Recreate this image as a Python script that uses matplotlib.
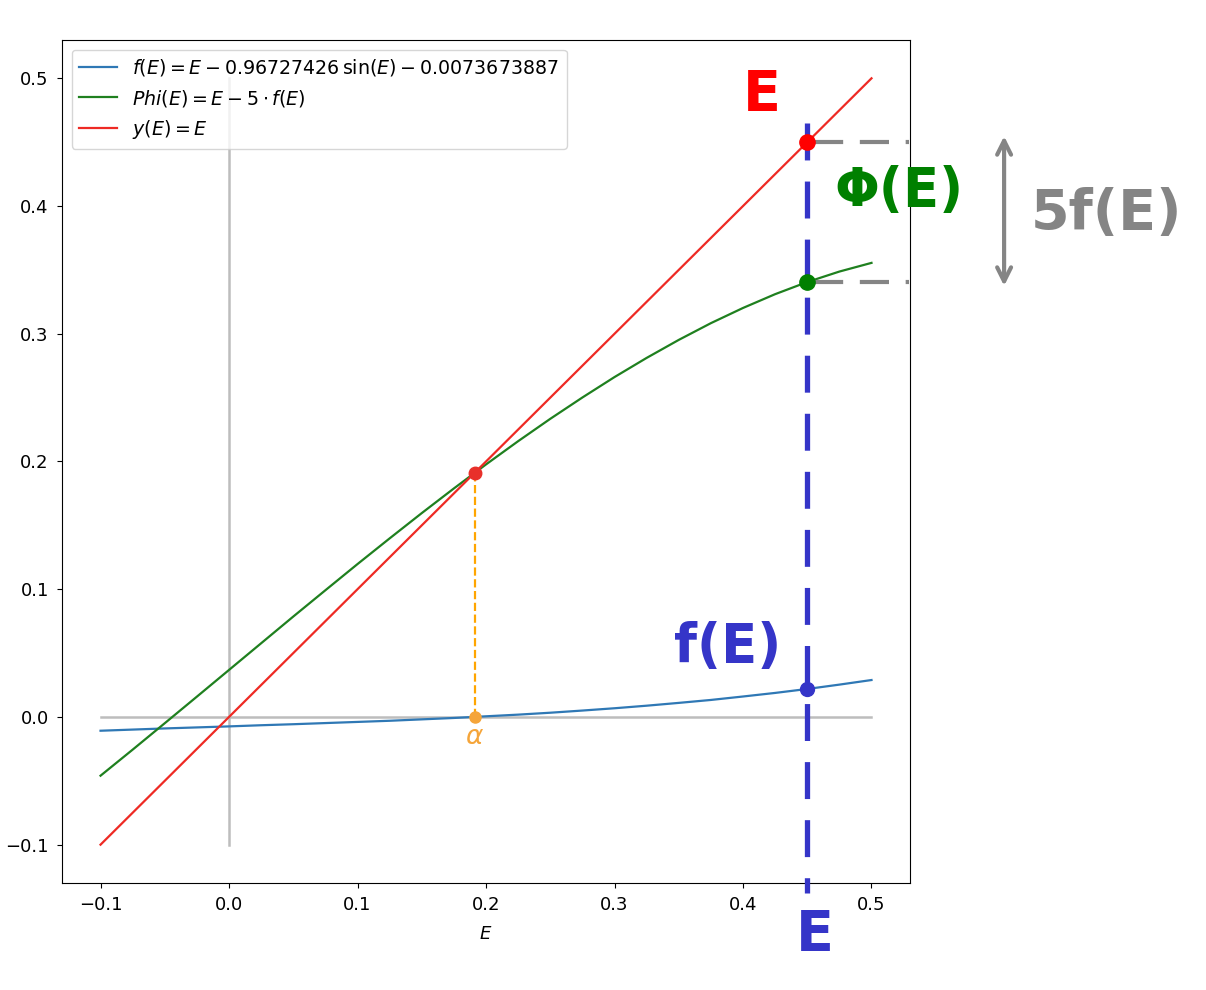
import numpy as np
import matplotlib.pyplot as plt

# values (step 0.025)
E_vals = [-0.1, -0.075, -0.05, -0.025, 0.0, 0.025, 0.05, 0.075, 0.1, 0.125,
          0.15, 0.175, 0.2, 0.225, 0.25, 0.275, 0.3, 0.325, 0.35, 0.375,
          0.4, 0.425, 0.45, 0.475, 0.5]
f_vals = [-0.0108, -0.0099, -0.0090, -0.0082, -0.0074, -0.0065, -0.0057,
          -0.0048, -0.0039, -0.0030, -0.0019, -0.0008, 0.0005, 0.0018,
          0.0033, 0.0050, 0.0068, 0.0088, 0.0110, 0.0133, 0.0160, 0.0188,
          0.0219, 0.0253, 0.0289]
phi_vals = [-0.0460, -0.0256, -0.0049, 0.0159, 0.0368, 0.0577, 0.0786,
            0.0992, 0.1197, 0.1398, 0.1596, 0.1789, 0.1977, 0.2159, 0.2334,
            0.2501, 0.2661, 0.2811, 0.2952, 0.3083, 0.3202, 0.3310, 0.3405,
            0.3487, 0.3555]
y_vals = E_vals

alpha = 0.1911      # fixed point / root
E0 = 0.45           # the hand-marked E
f_E0 = 0.0219
phi_E0 = 0.3405

fig = plt.figure(figsize=(12.06, 9.9), dpi=100)
ax = fig.add_axes([0.0514, 0.1081, 0.7032, 0.8515])

# grey axes lines
ax.plot([-0.1, 0.5], [0, 0], color='#bdbdbd', lw=1.8, zorder=1)
ax.plot([0, 0], [-0.1, 0.5], color='#bdbdbd', lw=1.8, zorder=1)

ax.plot(E_vals, f_vals, color='#2f78b5', lw=1.6,
        label=r'$f(E) = E - 0.96727426\,\sin(E) - 0.0073673887$')
ax.plot(E_vals, phi_vals, color='#1f801f', lw=1.6,
        label=r'$Phi(E) = E - 5 \cdot f(E)$')
ax.plot(E_vals, y_vals, color='#ee2a24', lw=1.6, label=r'$y(E) = E$')

# fixed point
ax.plot([alpha, alpha], [0, alpha], color='orange', ls='--', lw=1.6)
ax.plot(alpha, 0, 'o', color='#f5a53a', ms=8)
ax.plot(alpha, alpha, 'o', color='#e8302a', ms=9)
ax.text(alpha, -0.016, r'$\alpha$', color='#f5a53a', fontsize=19,
        ha='center', va='center')

ax.set_xlabel(r'$E$', fontsize=13, labelpad=8)
ax.tick_params(labelsize=13, pad=6)
ax.legend(loc='upper left', fontsize=13.7)

# hand-drawn style annotations
blue = '#3535c8'
grey = '#858585'
ax.plot([E0, E0], [0.465, -0.138], color=blue, lw=3.8, dashes=(7, 4),
        clip_on=False, zorder=5)
ax.plot([0.455, 0.5295], [0.45, 0.45], color=grey, lw=3, dashes=(7, 4),
        clip_on=False, zorder=4)
ax.plot([0.455, 0.5295], [phi_E0, phi_E0], color=grey, lw=3, dashes=(7, 4),
        clip_on=False, zorder=4)
ax.plot(E0, E0, 'o', color='red', ms=11, zorder=6)
ax.plot(E0, phi_E0, 'o', color='green', ms=11, zorder=6)
ax.plot(E0, f_E0, 'o', color=blue, ms=10, zorder=6)

ax.text(0.4144, 0.487, 'E', color='red', fontsize=40, fontweight='heavy',
        ha='center', va='center')
ax.text(0.388, 0.055, 'f(E)', color=blue, fontsize=38, fontweight='heavy',
        ha='center', va='center')
ax.text(0.5216, 0.412, 'Φ(E)', color='green', fontsize=38, fontweight='heavy',
        ha='center', va='center', clip_on=False)
ax.text(0.683, 0.394, '5f(E)', color=grey, fontsize=40, fontweight='heavy',
        ha='center', va='center', clip_on=False)
ax.text(0.4556, -0.171, 'E', color=blue, fontsize=40, fontweight='heavy',
        ha='center', va='center', clip_on=False)
ax.annotate('', xy=(0.6032, 0.4569), xytext=(0.6032, 0.3353),
            arrowprops=dict(arrowstyle='<->', color=grey, lw=3,
                            mutation_scale=25),
            annotation_clip=False)

ax.set_xlim(-0.13, 0.53)
ax.set_ylim(-0.13, 0.53)

plt.savefig('out.png', dpi=100)
